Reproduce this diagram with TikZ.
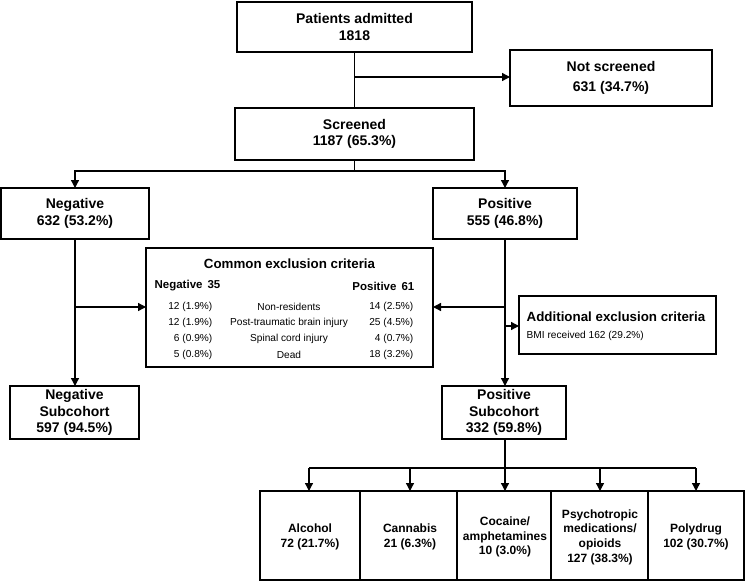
\documentclass[tikz,border=0pt]{standalone}
\usepackage{fontspec}
\setmainfont{Liberation Sans}
\usetikzlibrary{arrows.meta}
\begin{document}
\begin{tikzpicture}[x=0.75pt,y=-0.75pt,
  box/.style={draw,line width=1pt,fill=white},
  lbl/.style={font=\bfseries\fontsize{10.5}{12.5}\selectfont,align=center},
  sm/.style={font=\fontsize{7.6}{9}\selectfont},
  ln/.style={line width=1pt},
  ar/.style={line width=1pt,-{Triangle[length=6pt,width=6pt]}}]
\useasboundingbox (0,0) rectangle (745,581);
% boxes
\draw[box] (237,2) rectangle (472,52);
\node[lbl] (adm) at (354.5,27) {Patients admitted\\1818};
\draw[box] (510,50) rectangle (712,106);
\node[lbl] (ns) at (611,78) {Not screened\\[2pt]631 (34.7\%)};
\draw[box] (235,108) rectangle (474,160);
\node[lbl] (scr) at (354.5,134) {Screened\\1187 (65.3\%)};
\draw[box] (1,188) rectangle (149,239);
\node[lbl] (neg) at (75,213.5) {Negative\\632 (53.2\%)};
\draw[box] (433,188) rectangle (577,239);
\node[lbl] (pos) at (505,213.5) {Positive\\555 (46.8\%)};
\draw[box] (146,248) rectangle (433,367);
\node[font=\bfseries\fontsize{10}{12}\selectfont] (ct) at (289.5,264) {Common exclusion criteria};
\node[font=\bfseries\fontsize{8.6}{10}\selectfont,anchor=west] (n35) at (150,286) {Negative\, 35};
\node[font=\bfseries\fontsize{8.6}{10}\selectfont,anchor=east] (p61) at (419,286) {Positive\, 61};
\foreach \y/\a/\b/\c [count=\i] in {307/12 (1.9\%)/Non-residents/14 (2.5\%),
  323/12 (1.9\%)/Post-traumatic brain injury/25 (4.5\%),
  339/6 (0.9\%)/Spinal cord injury/4 (0.7\%),
  355/5 (0.8\%)/Dead/18 (3.2\%)}{
  \node[sm,anchor=east] (l\i) at (217,\y) {\a};
  \node[sm] (m\i) at (289,\y) {\b};
  \node[sm,anchor=east] (r\i) at (418,\y) {\c};
}
\draw[box] (519,296) rectangle (716,354);
\node[font=\bfseries\fontsize{10}{12}\selectfont,anchor=west] (at) at (522,317) {Additional exclusion criteria};
\node[sm,anchor=west] (bmi) at (522,336) {BMI received 162 (29.2\%)};
\draw[box] (10,386) rectangle (139,439);
\node[lbl] (nsub) at (74.5,412.5) {Negative\\Subcohort\\597 (94.5\%)};
\draw[box] (442,386) rectangle (566,439);
\node[lbl] (psub) at (504,412.5) {Positive\\Subcohort\\332 (59.8\%)};
% bottom boxes
\draw[box] (260,491) rectangle (744,580);
\foreach \x in {360,457,551,648} \draw[ln] (\x,491) -- (\x,580);
\node[lbl,font=\bfseries\fontsize{9}{11}\selectfont] (b1) at (310,537) {Alcohol\\72 (21.7\%)};
\node[lbl,font=\bfseries\fontsize{9}{11}\selectfont] (b2) at (410,537) {Cannabis\\21 (6.3\%)};
\node[lbl,font=\bfseries\fontsize{9}{11}\selectfont] (b3) at (505,537) {Cocaine/\\amphetamines\\10 (3.0\%)};
\node[lbl,font=\bfseries\fontsize{9}{11}\selectfont] (b4) at (600,537) {Psychotropic\\medications/\\opioids\\127 (38.3\%)};
\node[lbl,font=\bfseries\fontsize{9}{11}\selectfont] (b5) at (696,537) {Polydrug\\102 (30.7\%)};
% connectors
\coordinate (c1) at (354.5,77);
\draw[ln] (354.5,52) -- (354.5,108);
\draw[ar] (c1) -- (510,77);
\coordinate (c2) at (354.5,171);
\draw[ln] (354.5,160) -- (c2);
\draw[ar] (c2) -| (75,188);
\draw[ar] (c2) -| (505,188);
\draw[ar] (75,239) -- (75,386);
\draw[ar] (75,307) -- (146,307);
\draw[ar] (505,239) -- (505,386);
\draw[ar] (505,307) -- (433,307);
\draw[ar] (505,326) -- (519,326);
\draw[ln] (505,439) -- (505,468);
\draw[ln] (309,468) -- (696,468);
\foreach \x in {309,410,505,600,696} \draw[ar] (\x,468) -- (\x,491);
\end{tikzpicture}
\end{document}
